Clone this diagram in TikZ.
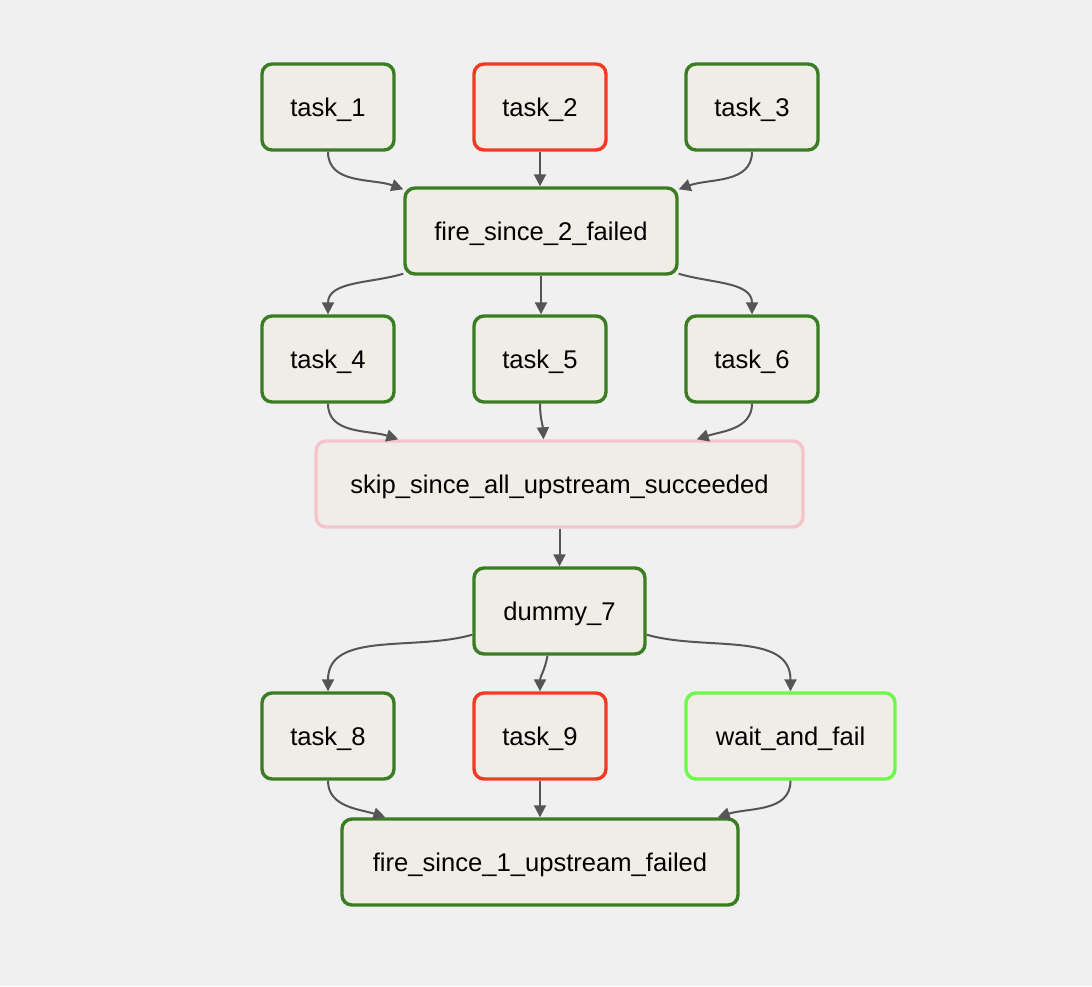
\documentclass[tikz,border=0pt]{standalone}
\usepackage{fontspec}
\setmainfont{Liberation Sans}
\usetikzlibrary{arrows.meta,calc}
\definecolor{bg}{HTML}{F0F0F0}
\definecolor{taskfill}{HTML}{F0EDE6}
\definecolor{okgreen}{HTML}{3A7D22}
\definecolor{failred}{HTML}{F03A24}
\definecolor{skippink}{HTML}{F6C5CC}
\definecolor{runlime}{HTML}{6CF94A}
\definecolor{edgegrey}{HTML}{555555}
\tikzset{
  task/.style={draw,fill=taskfill,line width=1.7pt,rounded corners=5pt,minimum width=66pt,minimum height=43pt,inner sep=0pt,text depth=0pt,font=\fontsize{12.8}{15}\selectfont},
  ok/.style={task,draw=okgreen},
  failed/.style={task,draw=failred},
  skipped/.style={task,draw=skippink},
  running/.style={task,draw=runlime},
  edge/.style={-{Triangle[length=6pt,width=6pt]},edgegrey,line width=1pt},
}
\begin{document}
\begin{tikzpicture}[x=0.5pt,y=-0.5pt]
  \fill[bg] (0,0) rectangle (1092,986);
  \useasboundingbox (0,0) rectangle (1092,986);
  \node[ok] (t1) at (328,107) {task\_1};
  \node[failed] (t2) at (540,107) {task\_2};
  \node[ok] (t3) at (752,107) {task\_3};
  \node[ok,minimum width=136pt] (f2) at (541,231) {fire\_since\_2\_failed};
  \node[ok] (t4) at (328,359) {task\_4};
  \node[ok] (t5) at (540,359) {task\_5};
  \node[ok] (t6) at (752,359) {task\_6};
  \node[skipped,minimum width=243.5pt] (skip) at (559.5,484) {skip\_since\_all\_upstream\_succeeded};
  \node[ok,minimum width=85.5pt] (d7) at (559.5,611) {dummy\_7};
  \node[ok] (t8) at (328,736) {task\_8};
  \node[failed] (t9) at (540,736) {task\_9};
  \node[running,minimum width=104.5pt] (wf) at (790.5,736) {wait\_and\_fail};
  \node[ok,minimum width=198pt] (f1) at (540,862) {fire\_since\_1\_upstream\_failed};
  \draw[edge] (t1.south) to[out=-90,in=160] ($(f2.north west)+(0,3)$);
  \draw[edge] (t2.south) -- (t2.south |- f2.north);
  \draw[edge] (t3.south) to[out=-90,in=20] ($(f2.north east)+(0,3)$);
  \draw[edge] ($(f2.south west)+(0,-2)$) to[out=197,in=90] (t4.north);
  \draw[edge] (f2.south) -- (f2.south |- t5.north);
  \draw[edge] ($(f2.south east)+(0,-2)$) to[out=-17,in=90] (t6.north);
  \draw[edge] (t4.south) to[out=-90,in=162] ($(skip.north west)+(84,0)$);
  \draw[edge] (t5.south) to[out=-90,in=93] ($(skip.north)+(-16,0)$);
  \draw[edge] (t6.south) to[out=-90,in=18] ($(skip.north east)+(-108,0)$);
  \draw[edge] (skip.south) -- (d7.north);
  \draw[edge] ($(d7.south west)+(0,-21)$) to[out=196,in=90] (t8.north);
  \draw[edge] ($(d7.south)+(-12,0)$) to[out=-100,in=90] (t9.north);
  \draw[edge] ($(d7.south east)+(0,-21)$) to[out=-16,in=90] (wf.north);
  \draw[edge] (t8.south) to[out=-90,in=162] ($(f1.north west)+(45,0)$);
  \draw[edge] (t9.south) -- (f1.north);
  \draw[edge] (wf.south) to[out=-90,in=18] ($(f1.north east)+(-22,0)$);
\end{tikzpicture}
\end{document}
